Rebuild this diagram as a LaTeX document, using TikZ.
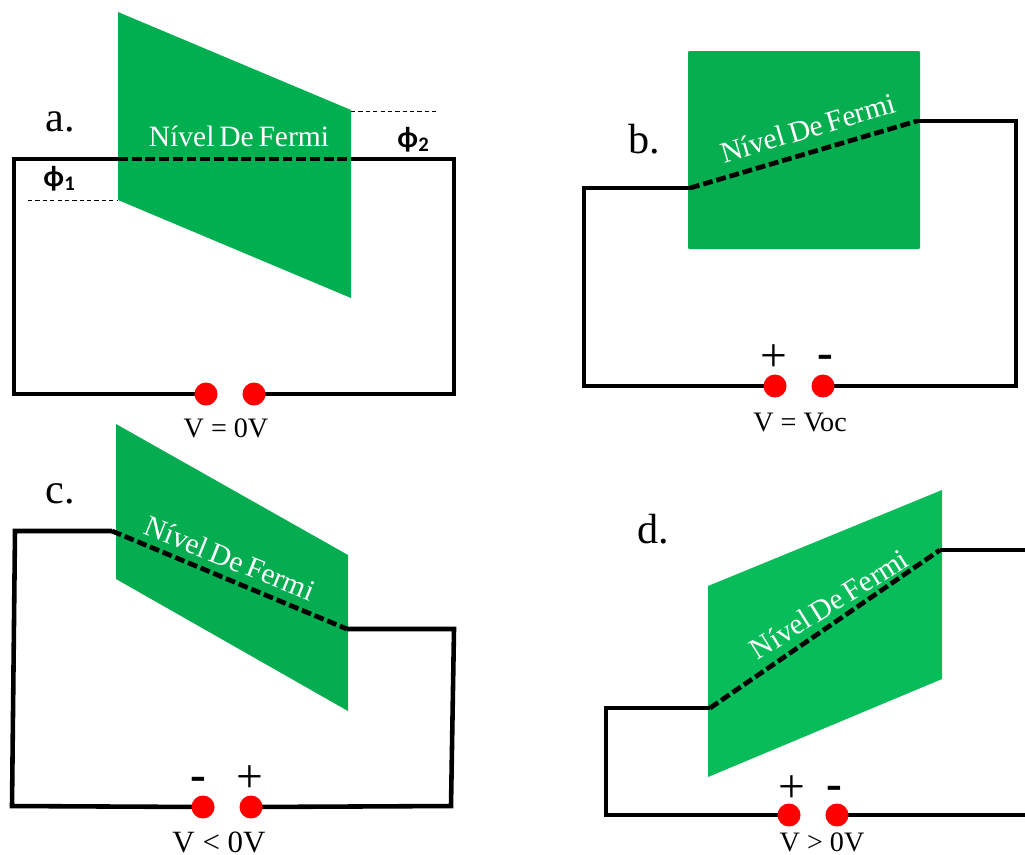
\documentclass[tikz,border=0pt]{standalone}
\usepackage{fontspec}
\usepackage{xcolor}
\setmainfont{Liberation Serif}
\newfontfamily\phifont{Carlito}
\newfontfamily\fermifont[WordSpace=0.65]{Liberation Serif}
\definecolor{panelA}{HTML}{00B050}
\definecolor{panelB}{HTML}{07AE50}
\definecolor{panelC}{HTML}{05AC50}
\definecolor{panelD}{HTML}{08BC5A}
\tikzset{
  wire/.style={line width=1.3pt, black},
  fermi/.style={line width=1.35pt, black, dash pattern=on 2.8pt off 1.1pt},
  guide/.style={line width=0.25pt, black, dash pattern=on 1.2pt off 0.9pt},
  terminal/.style={circle, fill=red, inner sep=0pt, minimum size=0.23cm},
  fermilabel/.style={white, font=\fermifont\fontsize{8.4pt}{9pt}\selectfont, inner sep=0pt},
  voltage/.style={font=\fontsize{8pt}{9pt}\selectfont, inner sep=0pt},
  letter/.style={font=\fontsize{12pt}{13pt}\selectfont, inner sep=0pt},
  polarity/.style={font=\fontsize{13.5pt}{14pt}\selectfont, inner sep=0pt},
  workfn/.style={font=\phifont\bfseries\fontsize{8.4pt}{9pt}\selectfont, inner sep=0pt}
}
\begin{document}
\begin{tikzpicture}[x=0.01cm, y=-0.01cm]
        \useasboundingbox (0, 0) rectangle (1025, 854);

        % --- Panel a ---
        \fill[panelA] (118, 12) -- (351, 110) -- (351, 298) -- (118, 200) -- cycle;
        \coordinate (aTL) at (14, 159);
        \coordinate (aIn) at (118, 159);
        \coordinate (aOut) at (351, 159);
        \coordinate (aTR) at (454, 159);
        \coordinate (aBR) at (454, 394);
        \coordinate (aBL) at (14, 394);
        \coordinate (aGuide1a) at (28, 200);
        \coordinate (aGuide1b) at (118, 200);
        \coordinate (aGuide2a) at (351, 111);
        \coordinate (aGuide2b) at (437, 111);
        \draw[wire] (aOut) -- (aTR) -- (aBR) -- (254, 394) node[terminal] (aPlus) {};
        \draw[wire] (aIn) -- (aTL) -- (aBL) -- (206, 394) node[terminal] (aMinus) {};
        \draw[fermi] (aIn) -- (aOut);
        \draw[guide] (aGuide1a) -- (aGuide1b);
        \draw[guide] (aGuide2a) -- (aGuide2b);
        \node[fermilabel] (aFermi) at (239, 136) {Nível De Fermi};
        \node[letter] (aLetter) at (60, 122) {a.};
        \node[workfn] (aPhi1) at (60, 179) {ϕ\textsubscript{1}};
        \node[workfn] (aPhi2) at (414, 140) {ϕ\textsubscript{2}};
        \node[voltage] (aV) at (226, 428) {V = 0V};

        % --- Panel b ---
        \fill[panelB, rounded corners=0.3pt] (688, 51) rectangle (920, 249);
        \coordinate (bTL) at (584, 188);
        \coordinate (bIn) at (690, 188);
        \coordinate (bOut) at (917, 121);
        \coordinate (bTR) at (1016, 121);
        \coordinate (bBR) at (1016, 386);
        \coordinate (bBL) at (584, 386);
        \draw[wire] (bOut) -- (bTR) -- (bBR) -- (823, 386) node[terminal] (bMinus) {};
        \draw[wire] (bIn) -- (bTL) -- (bBL) -- (775, 386) node[terminal] (bPlus) {};
        \draw[fermi] (bIn) -- (bOut);
        \node[fermilabel, rotate=16.5] (bFermi) at (808, 128) {Nível De Fermi};
        \node[letter] (bLetter) at (644, 139) {b.};
        \node[polarity] (bPlusSign) at (774, 358) {+};
        \node[polarity, font=\bfseries\fontsize{13.5pt}{14pt}\selectfont] (bMinusSign) at (825, 362) {-};
        \node[voltage] (bV) at (800, 422) {V = Voc};

        % --- Panel c ---
        \fill[panelC] (116, 424) -- (348, 555) -- (348, 711) -- (116, 579) -- cycle;
        \coordinate (cTL) at (15, 531);
        \coordinate (cIn) at (112, 531);
        \coordinate (cOut) at (347, 629);
        \coordinate (cTR) at (454, 629);
        \coordinate (cBR) at (451, 806);
        \coordinate (cBL) at (12, 806);
        \draw[wire] (cOut) -- (cTR) -- (cBR) -- (251, 807) node[terminal] (cPlus) {};
        \draw[wire] (cIn) -- (cTL) -- (cBL) -- (203, 807) node[terminal] (cMinus) {};
        \draw[fermi] (cIn) -- (cOut);
        \node[fermilabel, rotate=-22] (cFermi) at (230, 558) {Nível De Fermi};
        \node[letter] (cLetter) at (60, 494) {c.};
        \node[polarity, font=\bfseries\fontsize{13.5pt}{14pt}\selectfont] (cMinusSign) at (198, 784) {-};
        \node[polarity] (cPlusSign) at (250, 779) {+};
        \node[voltage, font=\fontsize{8.8pt}{9pt}\selectfont] (cV) at (219, 842) {V < 0V};

        % --- Panel d ---
        \fill[panelD] (708, 586) -- (942, 490) -- (942, 679) -- (708, 777) -- cycle;
        \coordinate (dTL) at (606, 708);
        \coordinate (dIn) at (710, 708);
        \coordinate (dOut) at (940, 550);
        \coordinate (dTR) at (1025, 550);
        \coordinate (dBR) at (1025, 815);
        \coordinate (dBL) at (606, 815);
        \draw[wire] (dOut) -- (dTR);
        \draw[wire] (dBR) -- (837, 815) node[terminal] (dMinus) {};
        \draw[wire] (dIn) -- (dTL) -- (dBL) -- (789, 815) node[terminal] (dPlus) {};
        \draw[fermi] (dIn) -- (dOut);
        \node[fermilabel, rotate=32] (dFermi) at (829, 604) {Nível De Fermi};
        \node[letter] (dLetter) at (653, 529) {d.};
        \node[polarity] (dPlusSign) at (792, 789) {+};
        \node[polarity, font=\bfseries\fontsize{13.5pt}{14pt}\selectfont] (dMinusSign) at (834, 793) {-};
        \node[voltage] (dV) at (822, 842) {V > 0V};

    \end{tikzpicture}
\end{document}
